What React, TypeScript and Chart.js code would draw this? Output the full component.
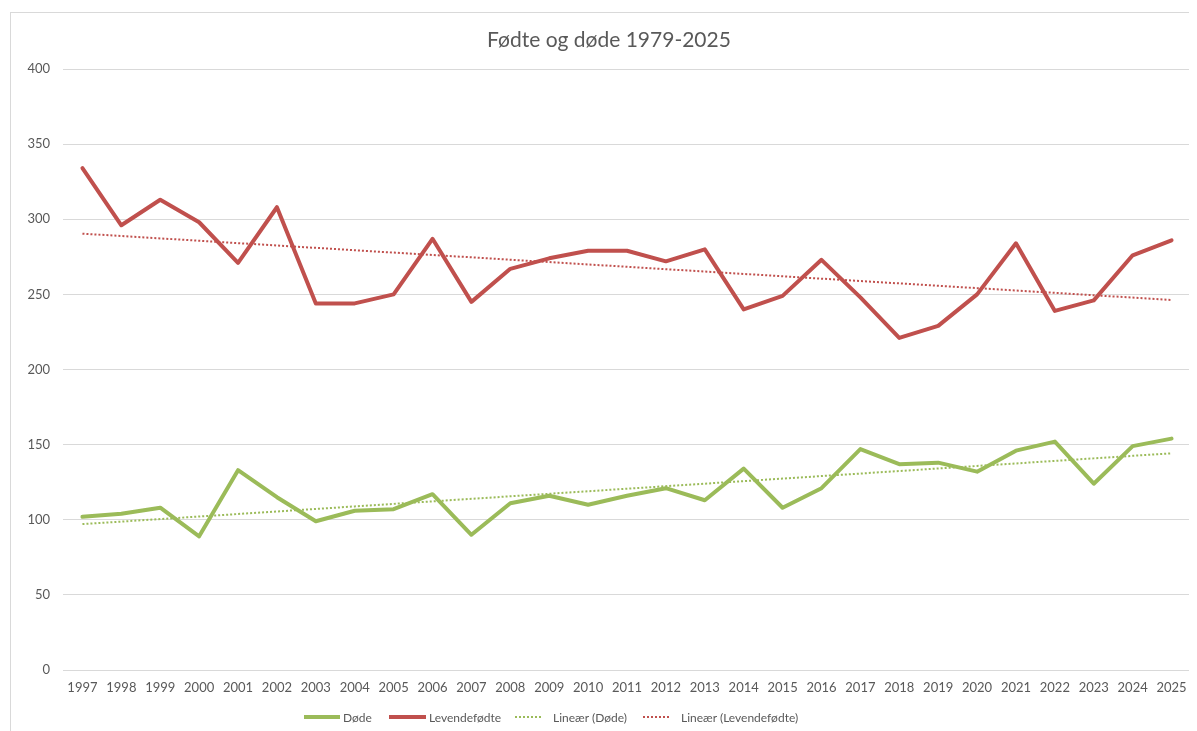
import React, { useEffect, useRef } from "react";
import { Chart, registerables } from "chart.js";

Chart.register(...registerables);

const years = [
  "1997", "1998", "1999", "2000", "2001", "2002", "2003", "2004", "2005", "2006",
  "2007", "2008", "2009", "2010", "2011", "2012", "2013", "2014", "2015", "2016",
  "2017", "2018", "2019", "2020", "2021", "2022", "2023", "2024", "2025",
];

const dode = [
  102, 104, 108, 89, 133, 115, 99, 106, 107, 117,
  90, 111, 116, 110, 116, 121, 113, 134, 108, 121,
  147, 137, 138, 132, 146, 152, 124, 149, 154,
];

const levendefodte = [
  334, 296, 313, 298, 271, 308, 244, 244, 250, 287,
  245, 267, 274, 279, 279, 272, 280, 240, 249, 273,
  248, 221, 229, 250, 284, 239, 246, 276, 286,
];

const yTicks = [0, 50, 100, 150, 200, 250, 300, 350, 400];

const GREEN = "#9BBB59";
const RED = "#C0504D";
const TEXT = "#595959";
const GRID = "#D9D9D9";
const FONT = "Lato, 'Open Sans', sans-serif";

// Least-squares linear trend (what the spreadsheet's "Lineær" trendline is)
function linearTrend(values: number[]): number[] {
  const n = values.length;
  const xm = (n - 1) / 2;
  const ym = values.reduce((a, b) => a + b, 0) / n;
  let sxy = 0;
  let sxx = 0;
  values.forEach((v, i) => {
    sxy += (i - xm) * (v - ym);
    sxx += (i - xm) * (i - xm);
  });
  const slope = sxy / sxx;
  return values.map((_, i) => ym + slope * (i - xm));
}

export default function App() {
  const canvasRef = useRef<HTMLCanvasElement | null>(null);

  useEffect(() => {
    if (!canvasRef.current) return;
    const chart = new Chart(canvasRef.current, {
      type: "line",
      data: {
        labels: years,
        datasets: [
          {
            label: "Døde",
            data: dode,
            borderColor: GREEN,
            backgroundColor: GREEN,
            borderWidth: 4,
            pointRadius: 0,
            borderJoinStyle: "round",
            borderCapStyle: "round",
            tension: 0,
          },
          {
            label: "Levendefødte",
            data: levendefodte,
            borderColor: RED,
            backgroundColor: RED,
            borderWidth: 4,
            pointRadius: 0,
            borderJoinStyle: "round",
            borderCapStyle: "round",
            tension: 0,
          },
          {
            label: "Lineær (Døde)",
            data: linearTrend(dode),
            borderColor: GREEN,
            backgroundColor: GREEN,
            borderWidth: 2,
            borderDash: [2, 2],
            pointRadius: 0,
            tension: 0,
          },
          {
            label: "Lineær (Levendefødte)",
            data: linearTrend(levendefodte),
            borderColor: RED,
            backgroundColor: RED,
            borderWidth: 2,
            borderDash: [2, 2],
            pointRadius: 0,
            tension: 0,
          },
        ],
      },
      options: {
        animation: false,
        responsive: false,
        maintainAspectRatio: false,
        layout: { padding: { top: 61, right: 6, bottom: 21, left: 0 } },
        plugins: {
          legend: { display: false },
          title: { display: false },
          tooltip: { enabled: false },
        },
        scales: {
          x: {
            type: "category",
            offset: true,
            grid: { display: false, drawTicks: false },
            border: { display: false },
            ticks: {
              color: TEXT,
              font: { family: FONT, size: 13 },
              padding: 10,
              maxRotation: 0,
              autoSkip: false,
            },
            afterFit: (s: any) => {
              s.height = 40;
            },
          },
          y: {
            min: 0,
            max: 400,
            grid: { color: GRID, lineWidth: 1, drawTicks: false },
            border: { display: false },
            afterBuildTicks: (s: any) => {
              s.ticks = yTicks.map((v) => ({ value: v }));
            },
            ticks: {
              color: TEXT,
              font: { family: FONT, size: 13 },
              padding: 13,
            },
            afterFit: (s: any) => {
              s.width = 55;
            },
          },
        },
      },
    });
    return () => chart.destroy();
  }, []);

  const legendItems = [
    { label: "Døde", color: GREEN, dotted: false, left: 296, lineW: 36 },
    { label: "Levendefødte", color: RED, dotted: false, left: 381, lineW: 37 },
    { label: "Lineær (Døde)", color: GREEN, dotted: true, left: 507, lineW: 26 },
    { label: "Lineær (Levendefødte)", color: RED, dotted: true, left: 635, lineW: 26 },
  ];

  return (
    <div style={{ position: "relative", width: 1189, height: 723, overflow: "hidden", fontFamily: FONT }}>
      <div
        style={{
          position: "absolute",
          left: 2,
          top: 4,
          width: 1300,
          height: 800,
          borderLeft: "1px solid #D9D9D9",
          borderTop: "1px solid #D9D9D9",
        }}
      />
      <canvas
        ref={canvasRef}
        width={1189}
        height={723}
        style={{ position: "absolute", left: 0, top: 0, width: 1189, height: 723 }}
      />
      <div
        style={{
          position: "absolute",
          left: 0,
          width: 1202,
          top: 19,
          textAlign: "center",
          fontSize: 21,
          color: TEXT,
          lineHeight: "24px",
        }}
      >
        Fødte og døde 1979-2025
      </div>
      {legendItems.map((it) => (
        <div
          key={it.label}
          style={{
            position: "absolute",
            left: it.left,
            top: 701,
            height: 16,
            display: "flex",
            alignItems: "center",
            fontSize: 12,
            color: TEXT,
            whiteSpace: "nowrap",
          }}
        >
          <span
            style={{
              display: "inline-block",
              width: it.lineW,
              height: 0,
              borderTop: it.dotted ? `2px dotted ${it.color}` : `4px solid ${it.color}`,
              marginRight: it.dotted ? 12 : 3,
            }}
          />
          <span>{it.label}</span>
        </div>
      ))}
    </div>
  );
}
